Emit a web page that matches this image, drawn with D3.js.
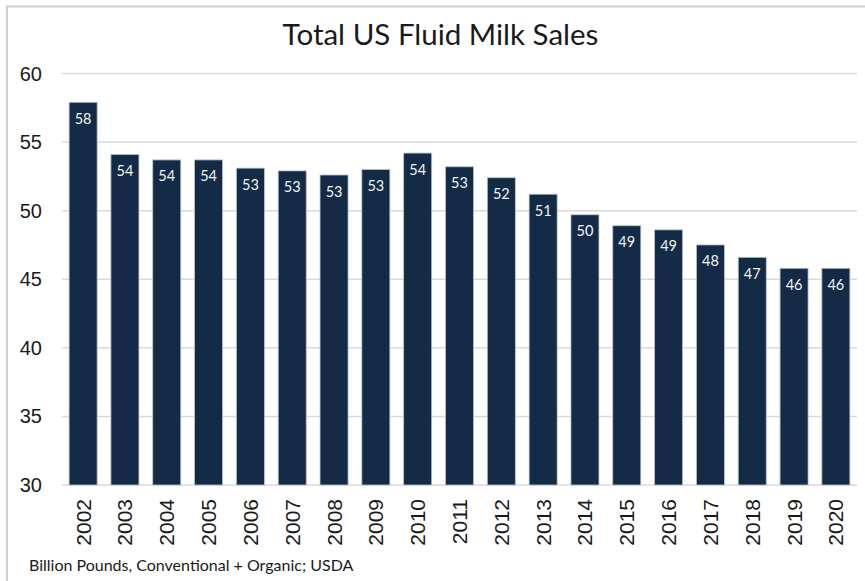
<!DOCTYPE html>
<html><head><meta charset="utf-8">
<script src="https://cdn.jsdelivr.net/npm/d3@7/dist/d3.min.js"></script>
<style>body{margin:0;background:#fff}svg{display:block}</style>
</head><body>
<svg id="c" width="865" height="581"></svg>
<script>
const years = ["2002","2003","2004","2005","2006","2007","2008","2009","2010","2011","2012","2013","2014","2015","2016","2017","2018","2019","2020"];
const sales = [57.9,54.1,53.7,53.7,53.1,52.9,52.6,53.0,54.2,53.2,52.4,51.2,49.7,48.9,48.6,47.5,46.6,45.8,45.8];
const yTicks = [30,35,40,45,50,55,60];
const title = "Total US Fluid Milk Sales";
const note = "Billion Pounds, Conventional + Organic; USDA";

const svg = d3.select("#c");
svg.append("rect").attr("x",7).attr("y",6.5).attr("width",870).attr("height",590)
  .attr("fill","none").attr("stroke","#cfcfcf").attr("stroke-width",2);

const m = {l:62, r:857, t:73.5, b:485};
const x = d3.scaleBand().domain(years).range([m.l,m.r]).paddingInner(0.33).paddingOuter(0.17);
const y = d3.scaleLinear().domain([30,60]).range([m.b,m.t]);

svg.append("g").selectAll("line").data(yTicks).join("line")
  .attr("x1",m.l).attr("x2",m.r).attr("y1",d=>y(d)).attr("y2",d=>y(d))
  .attr("stroke","#d9d9d9").attr("stroke-width",1.5);

svg.append("g").selectAll("text").data(yTicks).join("text")
  .attr("x",42).attr("y",d=>y(d)).attr("dy","0.35em").attr("text-anchor","end")
  .attr("font-family","Liberation Sans, Arial, sans-serif").attr("font-size",20).attr("fill","#1a1a1a")
  .text(d=>d);

const g = svg.append("g");
g.selectAll("rect").data(sales).join("rect")
  .attr("x",(d,i)=>x(years[i])).attr("width",x.bandwidth())
  .attr("y",d=>y(d)).attr("height",d=>y(30)-y(d))
  .attr("fill","#132b47").attr("stroke","#b8c2cc").attr("stroke-width",0.8);

g.selectAll("text").data(sales).join("text")
  .attr("x",(d,i)=>x(years[i])+x.bandwidth()/2).attr("y",d=>y(d)+21.5)
  .attr("text-anchor","middle").attr("font-family","Lato, sans-serif").attr("font-size",14.5)
  .attr("fill","#f4f4f4").text(d=>Math.round(d));

svg.append("g").selectAll("text").data(years).join("text")
  .attr("transform",d=>`translate(${x(d)+x.bandwidth()/2+7.5},${499}) rotate(-90)`)
  .attr("text-anchor","end")
  .attr("font-family","Liberation Sans, Arial, sans-serif").attr("font-size",21).attr("fill","#1a1a1a")
  .text(d=>d);

svg.append("text").attr("x",440.5).attr("y",45).attr("text-anchor","middle")
  .attr("font-family","Lato, sans-serif").attr("font-size",29.5).attr("fill","#1a1a1a").text(title);

svg.append("text").attr("x",29).attr("y",571)
  .attr("font-family","Lato, sans-serif").attr("font-size",16).attr("fill","#1a1a1a").text(note);
</script>
</body></html>
